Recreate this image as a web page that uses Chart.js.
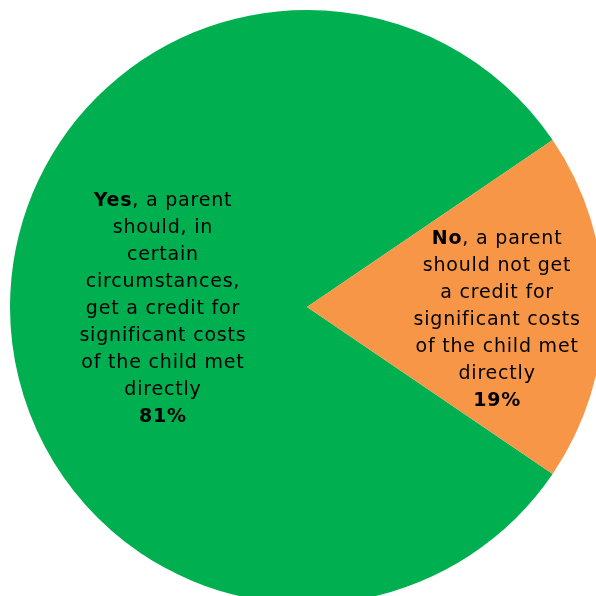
<!DOCTYPE html>
<html>
<head>
<meta charset="utf-8">
<script src="https://cdn.jsdelivr.net/npm/chart.js@4"></script>
<style>
  html, body { margin: 0; padding: 0; background: #fff; overflow: hidden; }
  #wrap { position: absolute; left: 0; top: 0; width: 614px; height: 614px; }
</style>
</head>
<body>
<div id="wrap"><canvas id="pie" width="614" height="614"></canvas></div>
<script>
const categories = ['Yes', 'No'];
const shares = [81, 19];
const sliceColours = ['#00B050', '#F79646'];

// label text per slice: bold lead word, then the rest of the sentence split into lines
const leadWords = ['Yes', 'No'];
const labelLines = [
    [', a parent', 'should, in', 'certain', 'circumstances,', 'get a credit for', 'significant costs', 'of the child met', 'directly'],
    [', a parent', 'should not get', 'a credit for', 'significant costs', 'of the child met', 'directly']
];

const total = shares.reduce((a, b) => a + b, 0);
// put the small slice centred on the right-hand side
const startRotation = 90 + (shares[1] / total) * 360 / 2;

const sliceLabels = {
    id: 'sliceLabels',
    afterDatasetsDraw(chart, args, opts) {
        const ctx = chart.ctx;
        const meta = chart.getDatasetMeta(0);
        const fontFamily = opts.family;
        const size = opts.size;
        const lineH = opts.lineHeight;
        ctx.save();
        ctx.fillStyle = '#000';
        ctx.textBaseline = 'middle';
        ctx.letterSpacing = opts.spacing;
        meta.data.forEach((arc, i) => {
            const mid = (arc.startAngle + arc.endAngle) / 2;
            const r = arc.outerRadius * opts.radial[i];
            const cx = arc.x + Math.cos(mid) * r;
            const cy = arc.y + Math.sin(mid) * r + opts.shiftY[i];
            const lines = labelLines[i];
            const n = lines.length + 1;
            let y = cy - (n - 1) * lineH / 2;

            // first line mixes bold lead word with normal text
            const bold = `bold ${size}px ${fontFamily}`;
            const normal = `${size}px ${fontFamily}`;
            ctx.font = bold;
            const wb = ctx.measureText(leadWords[i]).width;
            ctx.font = normal;
            const wn = ctx.measureText(lines[0]).width;
            let x = cx - (wb + wn) / 2;
            ctx.textAlign = 'left';
            ctx.font = bold;
            ctx.fillText(leadWords[i], x, y);
            ctx.font = normal;
            ctx.fillText(lines[0], x + wb, y);

            ctx.textAlign = 'center';
            for (let k = 1; k < lines.length; k++) {
                y += lineH;
                ctx.fillText(lines[k], cx, y);
            }
            y += lineH;
            ctx.font = bold;
            ctx.fillText(shares[i] + '%', cx, y);
        });
        ctx.restore();
    }
};

new Chart(document.getElementById('pie'), {
    type: 'pie',
    data: {
        labels: categories,
        datasets: [{
            data: shares,
            backgroundColor: sliceColours,
            borderWidth: 0
        }]
    },
    options: {
        responsive: false,
        animation: false,
        rotation: startRotation,
        layout: { padding: 10 },
        plugins: {
            legend: { display: false },
            tooltip: { enabled: false },
            sliceLabels: {
                family: '"DejaVu Sans", Verdana, sans-serif',
                size: 19,
                spacing: '0.8px',
                lineHeight: 27,
                radial: [0.485, 0.64],
                shiftY: [2, 13]
            }
        }
    },
    plugins: [sliceLabels]
});
</script>
</body>
</html>
